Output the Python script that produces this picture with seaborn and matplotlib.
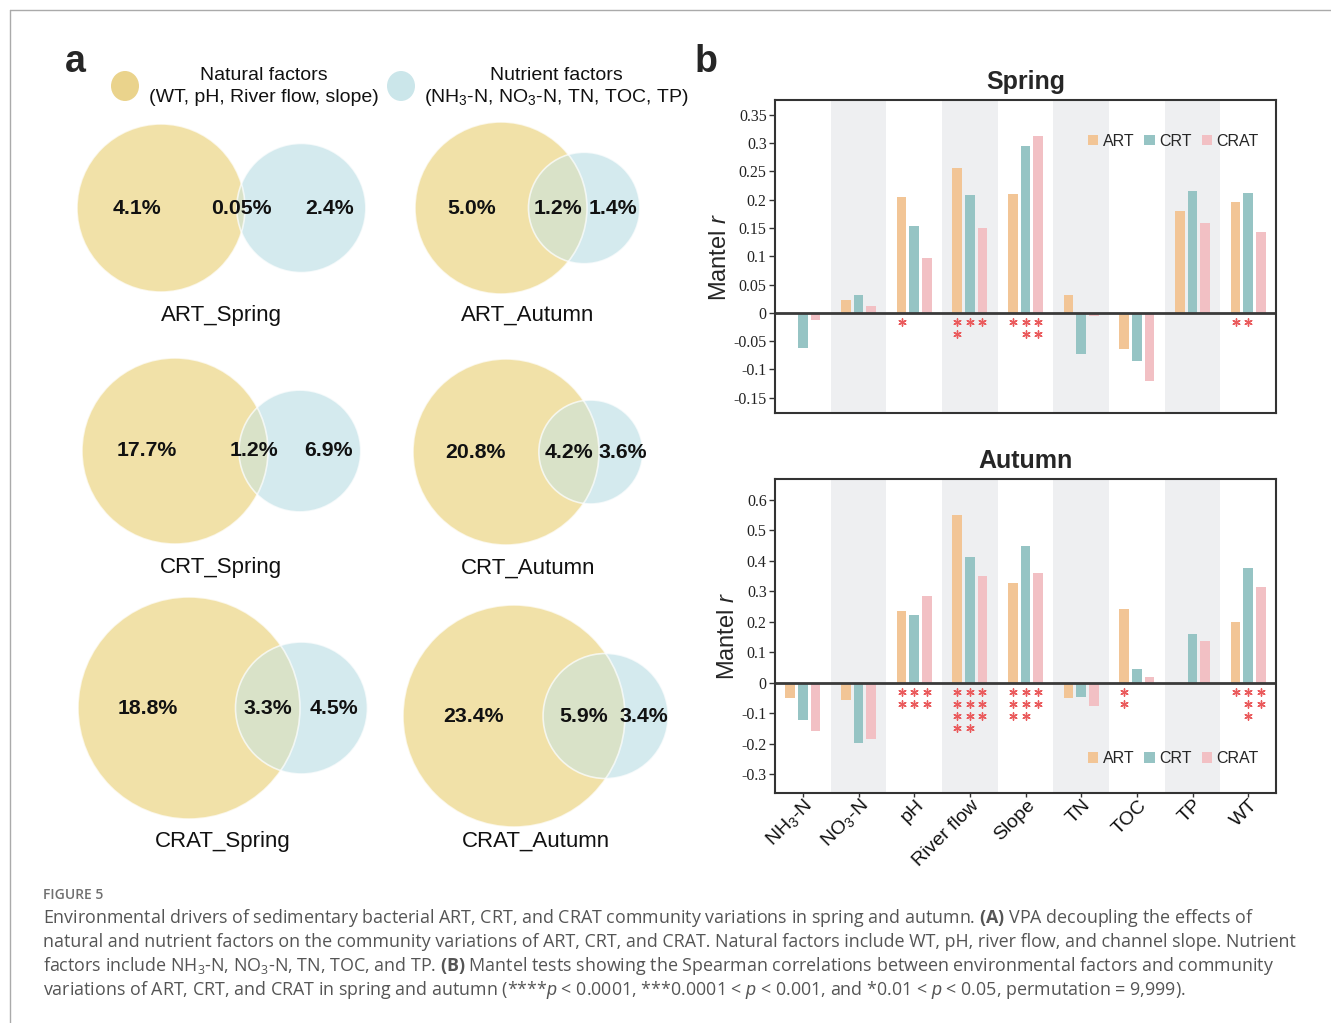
import math
import numpy as np
import pandas as pd
import matplotlib
matplotlib.use("Agg")
import matplotlib.pyplot as plt
import seaborn as sns
from matplotlib.patches import Circle, Ellipse, Patch
from matplotlib.lines import Line2D
from matplotlib.transforms import offset_copy, ScaledTranslation

# ---- panel a: VPA values (%) ----
venn_names = ["ART_Spring", "ART_Autumn", "CRT_Spring", "CRT_Autumn", "CRAT_Spring", "CRAT_Autumn"]
natural_only = [4.1, 5.0, 17.7, 20.8, 18.8, 23.4]
shared = [0.05, 1.2, 1.2, 4.2, 3.3, 5.9]
nutrient_only = [2.4, 1.4, 6.9, 3.6, 4.5, 3.4]

# ---- panel b: Mantel r ----
factors = ["NH$_\\mathregular{3}$-N", "NO$_\\mathregular{3}$-N", "pH", "River flow", "Slope",
           "TN", "TOC", "TP", "WT"]
groups = ["ART", "CRT", "CRAT"]
spring_art = [0.0, 0.023, 0.205, 0.255, 0.210, 0.032, -0.064, 0.180, 0.196]
spring_crt = [-0.062, 0.031, 0.154, 0.208, 0.294, -0.072, -0.086, 0.215, 0.211]
spring_crat = [-0.013, 0.012, 0.096, 0.149, 0.313, -0.006, -0.120, 0.158, 0.143]
autumn_art = [-0.052, -0.058, 0.234, 0.549, 0.328, -0.052, 0.241, 0.0, 0.198]
autumn_crt = [-0.122, -0.197, 0.221, 0.411, 0.448, -0.047, 0.044, 0.159, 0.375]
autumn_crat = [-0.158, -0.184, 0.284, 0.351, 0.360, -0.075, 0.018, 0.136, 0.315]
# number of significance stars under each bar
spring_art_stars = [0, 0, 1, 2, 1, 0, 0, 0, 1]
spring_crt_stars = [0, 0, 0, 1, 2, 0, 0, 0, 1]
spring_crat_stars = [0, 0, 0, 1, 2, 0, 0, 0, 0]
autumn_art_stars = [0, 0, 2, 4, 3, 0, 2, 0, 1]
autumn_crt_stars = [0, 0, 2, 4, 3, 0, 0, 0, 3]
autumn_crat_stars = [0, 0, 2, 3, 2, 0, 0, 0, 2]

bar_colors = ["#F2C596", "#96C4C4", "#F2C0C4"]
star_color = "#EA5A5C"
band_color = "#EEEFF1"

sns.set_theme(style="white")
plt.rcParams["font.family"] = ["Liberation Sans", "DejaVu Sans"]
plt.rcParams["mathtext.fontset"] = "custom"
plt.rcParams["mathtext.rm"] = "Liberation Sans"
plt.rcParams["mathtext.it"] = "Liberation Sans:italic"
plt.rcParams["mathtext.bf"] = "Open Sans:bold"

W, H = 1331, 1023
fig = plt.figure(figsize=(W / 100, H / 100), dpi=100)


def fx(px):
    return px / W


def fy(py):
    return 1 - py / H


# outer frame lines
fig.add_artist(Line2D([fx(10), 1], [fy(10), fy(10)], color="#aaaaaa", lw=1))
fig.add_artist(Line2D([fx(10), fx(10)], [fy(10), 0], color="#aaaaaa", lw=1))

# ================= panel a =================
ax_v = fig.add_axes([0, fy(880), fx(700), 880 / H])
ax_v.set_xlim(0, 700)
ax_v.set_ylim(880, 0)
ax_v.axis("off")

c_nat, c_nut, c_both = "#F1E1A8", "#D4EAEE", "#D9E2C8"

# layout of each diagram (pixels): left edge, centre y, left radius, title y
venn_left = [77, 415, 82, 413, 78, 403]
venn_cy = [208, 208, 451, 452, 708, 716]
venn_rl = [84, 86, 93, 93, 111, 111]
venn_title_y = [315, 315, 568, 568, 841, 841]
label_nudge = [(-20, 24), (0, 0), (-14, 14), (0, 2), (-9, 0), (0, -3)]


def lens_area(r1, r2, d):
    if d >= r1 + r2:
        return 0.0
    if d <= abs(r1 - r2):
        return math.pi * min(r1, r2) ** 2
    a1 = r1 ** 2 * math.acos((d * d + r1 * r1 - r2 * r2) / (2 * d * r1))
    a2 = r2 ** 2 * math.acos((d * d + r2 * r2 - r1 * r1) / (2 * d * r2))
    a3 = 0.5 * math.sqrt((-d + r1 + r2) * (d + r1 - r2) * (d - r1 + r2) * (d + r1 + r2))
    return a1 + a2 - a3


for i, name in enumerate(venn_names):
    A = natural_only[i] + shared[i]
    B = nutrient_only[i] + shared[i]
    rl = venn_rl[i]
    rr = rl * math.sqrt(B / A)
    target = shared[i] / A * math.pi * rl ** 2
    lo, hi = abs(rl - rr), rl + rr
    for _ in range(60):
        mid = (lo + hi) / 2
        if lens_area(rl, rr, mid) > target:
            lo = mid
        else:
            hi = mid
    d = (lo + hi) / 2
    cl = venn_left[i] + rl
    cr = cl + d
    cy = venn_cy[i]

    left = Circle((cl, cy), rl, facecolor=c_nat, edgecolor="none", zorder=1)
    right = Circle((cr, cy), rr, facecolor=c_nut, edgecolor="none", zorder=1)
    ax_v.add_patch(left)
    ax_v.add_patch(right)
    lens = Circle((cr, cy), rr, facecolor=c_both, edgecolor="none", zorder=2)
    ax_v.add_patch(lens)
    lens.set_clip_path(left)
    ax_v.add_patch(Circle((cl, cy), rl, fill=False, edgecolor="white", lw=1.2, alpha=0.7, zorder=3))
    ax_v.add_patch(Circle((cr, cy), rr, fill=False, edgecolor="white", lw=1.2, alpha=0.7, zorder=3))

    x_lens_l, x_lens_r = cr - rr, cl + rl
    nl, nr = label_nudge[i]
    kw = dict(ha="center", va="center", fontsize=15.3, fontweight="bold", color="#111111", zorder=4)
    ax_v.text((venn_left[i] + x_lens_l) / 2 + nl, cy, f"{natural_only[i]}%", **kw)
    ax_v.text((x_lens_l + x_lens_r) / 2, cy, f"{shared[i]}%", **kw)
    ax_v.text((x_lens_r + cr + rr) / 2 + nr, cy, f"{nutrient_only[i]}%", **kw)
    ax_v.text((venn_left[i] + cr + rr) / 2, venn_title_y[i], name, ha="center", va="center",
              fontsize=16, color="#111111")

# header legend of panel a
ax_v.add_patch(Ellipse((125, 86), 28, 30, facecolor="#EAD38C", edgecolor="none"))
ax_v.add_patch(Ellipse((401, 86), 28, 30, facecolor="#CBE6EA", edgecolor="none"))
hkw = dict(ha="center", va="center", fontsize=14, color="#111111")
ax_v.text(264, 75, "Natural factors", **hkw)
ax_v.text(264, 97, "(WT, pH, River flow, slope)", **hkw)
ax_v.text(556, 75, "Nutrient factors", **hkw)
ax_v.text(556, 97, "(NH$_\\mathregular{3}$-N, NO$_\\mathregular{3}$-N, TN, TOC, TP)", **hkw)

fig.text(fx(75), fy(62), "a", ha="center", va="center", fontsize=27, fontweight="bold")
fig.text(fx(706), fy(62), "b", ha="center", va="center", fontsize=27, fontweight="bold")


# ================= panel b =================
def draw_season(rect, values, stars, title, ylim, ticks, legend_y, bottom):
    ax = fig.add_axes(rect)
    df = pd.DataFrame({
        "factor": np.tile(np.arange(len(factors)), len(groups)),
        "group": np.repeat(groups, len(factors)),
        "value": np.concatenate(values),
    })
    sns.barplot(data=df, x="factor", y="value", hue="group", hue_order=groups,
                palette=bar_colors, width=0.68, gap=0.25, saturation=1,
                edgecolor="none", linewidth=0, legend=False, ax=ax, zorder=2)
    for k in range(1, len(factors), 2):
        ax.axvspan(k - 0.5, k + 0.5, color=band_color, lw=0, zorder=0)
    ax.set_xlim(-0.5, len(factors) - 0.5)
    ax.axhline(0, color="#3a3a3a", lw=2, zorder=3)

    # significance stars stacked under each bar
    for cont, counts in zip(ax.containers, stars):
        for bar, n in zip(cont.patches, counts):
            xc = bar.get_x() + bar.get_width() / 2
            for k in range(n):
                tr = offset_copy(ax.transData, fig=fig, y=-(9 + 12 * k), units="dots")
                ax.scatter([xc], [0], marker=(6, 2, 0), s=28, lw=1.0,
                           color=star_color, transform=tr, zorder=4, clip_on=False)

    ax.set_ylim(*ylim)
    ax.set_yticks(ticks)
    ax.set_yticklabels([f"{round(v, 2) + 0.0:g}" for v in ticks],
                       fontfamily="Liberation Serif", fontsize=11.5, color="#222222")
    ax.set_ylabel("Mantel $\\mathit{r}$", fontsize=17, labelpad=2)
    ax.set_xlabel("")
    ax.set_title(title, fontsize=18, fontweight="bold", pad=8)
    ax.tick_params(axis="y", direction="out", length=4, width=1, color="#333333", pad=2, left=True)
    ax.set_xticks(range(len(factors)))
    if bottom:
        ax.set_xticklabels(factors, rotation=45, ha="right", va="center", rotation_mode="anchor",
                           fontsize=14, color="#111111")
        ax.tick_params(axis="x", direction="out", length=3, width=1, color="#333333", pad=4, bottom=True)
        shift = ScaledTranslation(7 / 100, 0, fig.dpi_scale_trans)
        for lab in ax.get_xticklabels():
            lab.set_transform(lab.get_transform() + shift)
    else:
        ax.set_xticklabels([])
        ax.tick_params(axis="x", length=0)
    for sp in ax.spines.values():
        sp.set_color("#333333")
        sp.set_linewidth(1.5)
        sp.set_zorder(5)

    handles = [Patch(facecolor=c, edgecolor="none") for c in bar_colors]
    ax.legend(handles, groups, loc="center right", bbox_to_anchor=(0.966, legend_y),
              ncol=3, frameon=False, fontsize=11.5, handlelength=0.65, handleheight=0.65,
              handletextpad=0.3, columnspacing=0.6, borderpad=0, borderaxespad=0)
    return ax


draw_season([fx(775), fy(413), 501 / W, 313 / H],
            [spring_art, spring_crt, spring_crat],
            [spring_art_stars, spring_crt_stars, spring_crat_stars],
            "Spring", (-0.177, 0.376), np.arange(-0.15, 0.351, 0.05), 0.869, False)
draw_season([fx(775), fy(793), 501 / W, 314 / H],
            [autumn_art, autumn_crt, autumn_crat],
            [autumn_art_stars, autumn_crt_stars, autumn_crat_stars],
            "Autumn", (-0.362, 0.668), np.arange(-0.3, 0.61, 0.1), 0.11, True)

# ================= caption =================
fig.text(fx(43), fy(895), "FIGURE 5", ha="left", va="center", fontsize=10,
         fontfamily="Open Sans", fontweight="semibold", color="#707070")
caption = [
    "Environmental drivers of sedimentary bacterial ART, CRT, and CRAT community variations in spring and autumn. "
    "$\\mathbf{(A)}$ VPA decoupling the effects of",
    "natural and nutrient factors on the community variations of ART, CRT, and CRAT. Natural factors include WT, "
    "pH, river flow, and channel slope. Nutrient",
    "factors include NH$_\\mathregular{3}$-N, NO$_\\mathregular{3}$-N, TN, TOC, and TP. $\\mathbf{(B)}$ Mantel tests "
    "showing the Spearman correlations between environmental factors and community",
    "variations of ART, CRT, and CRAT in spring and autumn (****$\\mathit{p}$ < 0.0001, ***0.0001 < $\\mathit{p}$ "
    "< 0.001, and *0.01 < $\\mathit{p}$ < 0.05, permutation = 9,999).",
]
for k, line in enumerate(caption):
    fig.text(fx(43), fy(918 + 24 * k), line, ha="left", va="center", fontsize=12.9,
             fontfamily="Open Sans", color="#555555")

fig.savefig("out.png", dpi=100)
